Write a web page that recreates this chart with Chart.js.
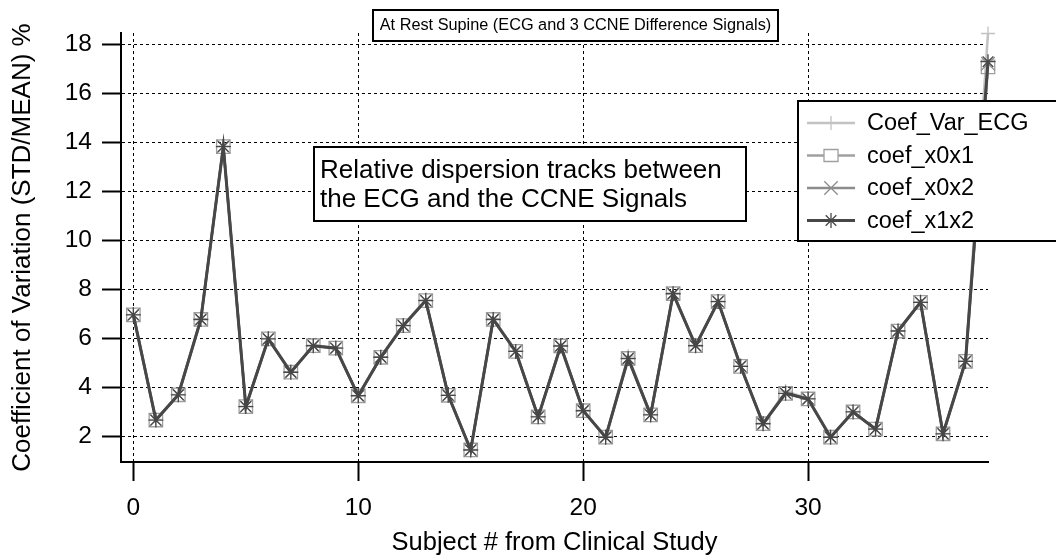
<!DOCTYPE html>
<html>
<head>
<meta charset="utf-8">
<script src="https://cdn.jsdelivr.net/npm/chart.js@4.4.1/dist/chart.umd.min.js"></script>
<style>
  html, body { margin: 0; padding: 0; background: #fff; }
  #wrap { width: 1056px; height: 557px; position: relative; }
</style>
</head>
<body>
<div id="wrap"><canvas id="cv"></canvas></div>
<script>
const subjects = [0, 1, 2, 3, 4, 5, 6, 7, 8, 9, 10, 11, 12, 13, 14, 15, 16, 17, 18, 19,
  20, 21, 22, 23, 24, 25, 26, 27, 28, 29, 30, 31, 32, 33, 34, 35, 36, 37, 38];

const coefVarECG = [6.98, 2.70, 3.72, 6.80, 13.85, 3.24, 6.00, 4.64, 5.72, 5.62,
  3.68, 5.25, 6.54, 7.58, 3.70, 1.47, 6.80, 5.49, 2.82, 5.71,
  3.07, 1.99, 5.28, 2.90, 7.85, 5.72, 7.52, 4.88, 2.54, 3.85,
  3.55, 1.99, 3.02, 2.32, 6.32, 7.49, 2.13, 5.08, 18.43];
const coefX0X1 = [6.96, 2.67, 3.70, 6.77, 13.82, 3.22, 5.98, 4.62, 5.70, 5.60,
  3.66, 5.23, 6.52, 7.54, 3.68, 1.45, 6.77, 5.47, 2.80, 5.69,
  3.05, 1.97, 5.18, 2.88, 7.82, 5.70, 7.50, 4.86, 2.52, 3.76,
  3.53, 1.97, 3.00, 2.30, 6.30, 7.47, 2.11, 5.06, 17.07];
const coefX0X2 = [6.96, 2.67, 3.70, 6.77, 13.82, 3.22, 5.98, 4.62, 5.70, 5.60,
  3.66, 5.23, 6.52, 7.54, 3.68, 1.45, 6.77, 5.47, 2.80, 5.69,
  3.05, 1.97, 5.18, 2.88, 7.82, 5.70, 7.50, 4.86, 2.52, 3.76,
  3.53, 1.97, 3.00, 2.30, 6.30, 7.47, 2.11, 5.06, 17.20];
const coefX1X2 = [6.96, 2.67, 3.70, 6.77, 13.82, 3.22, 5.98, 4.62, 5.70, 5.60,
  3.66, 5.23, 6.52, 7.54, 3.68, 1.45, 6.77, 5.47, 2.80, 5.69,
  3.05, 1.97, 5.18, 2.88, 7.82, 5.70, 7.50, 4.86, 2.52, 3.76,
  3.53, 1.97, 3.00, 2.30, 6.30, 7.47, 2.11, 5.06, 17.28];

const xTicks = [0, 10, 20, 30];
const yTicks = [2, 4, 6, 8, 10, 12, 14, 16, 18];

const seriesNames = ['Coef_Var_ECG', 'coef_x0x1', 'coef_x0x2', 'coef_x1x2'];
const titleText = 'At Rest Supine (ECG and 3 CCNE Difference Signals)';
const noteLines = ['Relative dispersion tracks between', 'the ECG and the CCNE Signals'];

const FONT = '"Liberation Sans", Arial, Helvetica, sans-serif';

const styles = [
  { color: '#c2c2c2', point: 'cross', radius: 7, width: 2.5, order: 4 },
  { color: '#a0a0a0', point: 'rect', radius: 9.5, width: 2.5, order: 3 },
  { color: '#8c8c8c', point: 'crossRot', radius: 9.5, width: 2.5, order: 2 },
  { color: '#474747', point: 'star', radius: 7.5, width: 3, order: 1 }
];
const seriesValues = [coefVarECG, coefX0X1, coefX0X2, coefX1X2];

const datasets = seriesNames.map((name, k) => ({
  label: name,
  data: subjects.map((x, i) => ({ x: x, y: seriesValues[k][i] })),
  showLine: true,
  borderColor: styles[k].color,
  borderWidth: styles[k].width,
  pointStyle: styles[k].point,
  pointRadius: styles[k].radius,
  pointBorderColor: styles[k].color,
  pointBackgroundColor: 'rgba(0,0,0,0)',
  pointBorderWidth: 1.3,
  order: styles[k].order,
  clip: false
}));

function drawMarker(ctx, style, x, y, r) {
  ctx.beginPath();
  if (style === 'cross' || style === 'star') {
    ctx.moveTo(x - r, y); ctx.lineTo(x + r, y);
    ctx.moveTo(x, y - r); ctx.lineTo(x, y + r);
  }
  if (style === 'crossRot' || style === 'star') {
    const d = r * Math.SQRT1_2;
    ctx.moveTo(x - d, y - d); ctx.lineTo(x + d, y + d);
    ctx.moveTo(x - d, y + d); ctx.lineTo(x + d, y - d);
  }
  if (style === 'rect') {
    const s = r * Math.SQRT1_2;
    ctx.rect(x - s, y - s, 2 * s, 2 * s);
  }
  ctx.stroke();
}

const boxes = {
  id: 'boxes',
  afterDraw(chart) {
    const ctx = chart.ctx;
    ctx.save();
    ctx.lineWidth = 2;
    ctx.strokeStyle = '#000';

    // title box
    ctx.fillStyle = '#fff';
    ctx.fillRect(373, 10, 405, 31);
    ctx.strokeRect(373, 10, 405, 31);
    ctx.fillStyle = '#000';
    ctx.font = '16.3px ' + FONT;
    ctx.textAlign = 'center';
    ctx.textBaseline = 'middle';
    ctx.fillText(titleText, 575.5, 26);

    // note box
    ctx.fillStyle = '#fff';
    ctx.fillRect(314, 147, 432, 74);
    ctx.strokeRect(314, 147, 432, 74);
    ctx.fillStyle = '#000';
    ctx.font = '26px ' + FONT;
    ctx.textAlign = 'left';
    ctx.fillText(noteLines[0], 320, 171);
    ctx.fillText(noteLines[1], 320, 200);

    // legend box
    ctx.fillStyle = '#fff';
    ctx.fillRect(798, 101, 262, 140);
    ctx.strokeRect(798, 101, 262, 140);
    ctx.font = '23.5px ' + FONT;
    const rows = [123, 155.5, 188, 220.5];
    seriesNames.forEach((name, k) => {
      const st = styles[k];
      const y = rows[k];
      ctx.strokeStyle = st.color;
      ctx.lineWidth = st.width;
      ctx.beginPath();
      ctx.moveTo(807, y); ctx.lineTo(855, y);
      ctx.stroke();
      ctx.lineWidth = 1.3;
      if (st.point === 'rect') {
        ctx.fillStyle = '#fff';
        ctx.fillRect(824, y - 6, 14, 12);
        ctx.beginPath();
        ctx.rect(824, y - 6, 14, 12);
        ctx.stroke();
      } else {
        drawMarker(ctx, st.point, 831, y, st.radius);
      }
      ctx.fillStyle = '#000';
      ctx.fillText(name, 867, y + 1);
    });
    ctx.restore();
  }
};

new Chart(document.getElementById('cv'), {
  type: 'scatter',
  data: { datasets: datasets },
  options: {
    responsive: true,
    maintainAspectRatio: false,
    animation: false,
    layout: { padding: { top: 33, right: 68, left: 0, bottom: 0 } },
    plugins: { legend: { display: false }, tooltip: { enabled: false } },
    scales: {
      x: {
        type: 'linear',
        min: -0.55,
        max: 38,
        afterBuildTicks: (scale) => { scale.ticks = xTicks.map(v => ({ value: v })); },
        afterFit: (scale) => { scale.height = 95; },
        border: { display: true, color: '#000', width: 2, dash: [3, 3] },
        grid: {
          color: '#000', lineWidth: 1,
          tickLength: 19, tickColor: '#000', tickWidth: 2, tickBorderDash: []
        },
        ticks: { color: '#000', font: { family: FONT, size: 24.5 }, padding: 13, maxRotation: 0 },
        title: {
          display: true, text: 'Subject # from Clinical Study', color: '#000',
          font: { family: FONT, size: 25.5, lineHeight: 1 }, padding: { top: 0, bottom: 1 }
        }
      },
      y: {
        type: 'linear',
        min: 0.96,
        max: 18.45,
        afterBuildTicks: (scale) => { scale.ticks = yTicks.map(v => ({ value: v })); },
        afterFit: (scale) => { scale.width = 121; },
        border: { display: true, color: '#000', width: 2, dash: [3, 3] },
        grid: {
          color: '#000', lineWidth: 1,
          tickLength: 19, tickColor: '#000', tickWidth: 2, tickBorderDash: []
        },
        ticks: { color: '#000', font: { family: FONT, size: 24.5 }, padding: 10 },
        title: {
          display: true, text: 'Coefficient of Variation (STD/MEAN) %', color: '#000',
          font: { family: FONT, size: 26, lineHeight: 1 }, padding: { top: 10, bottom: 0 }
        }
      }
    }
  },
  plugins: [boxes]
});
</script>
</body>
</html>
